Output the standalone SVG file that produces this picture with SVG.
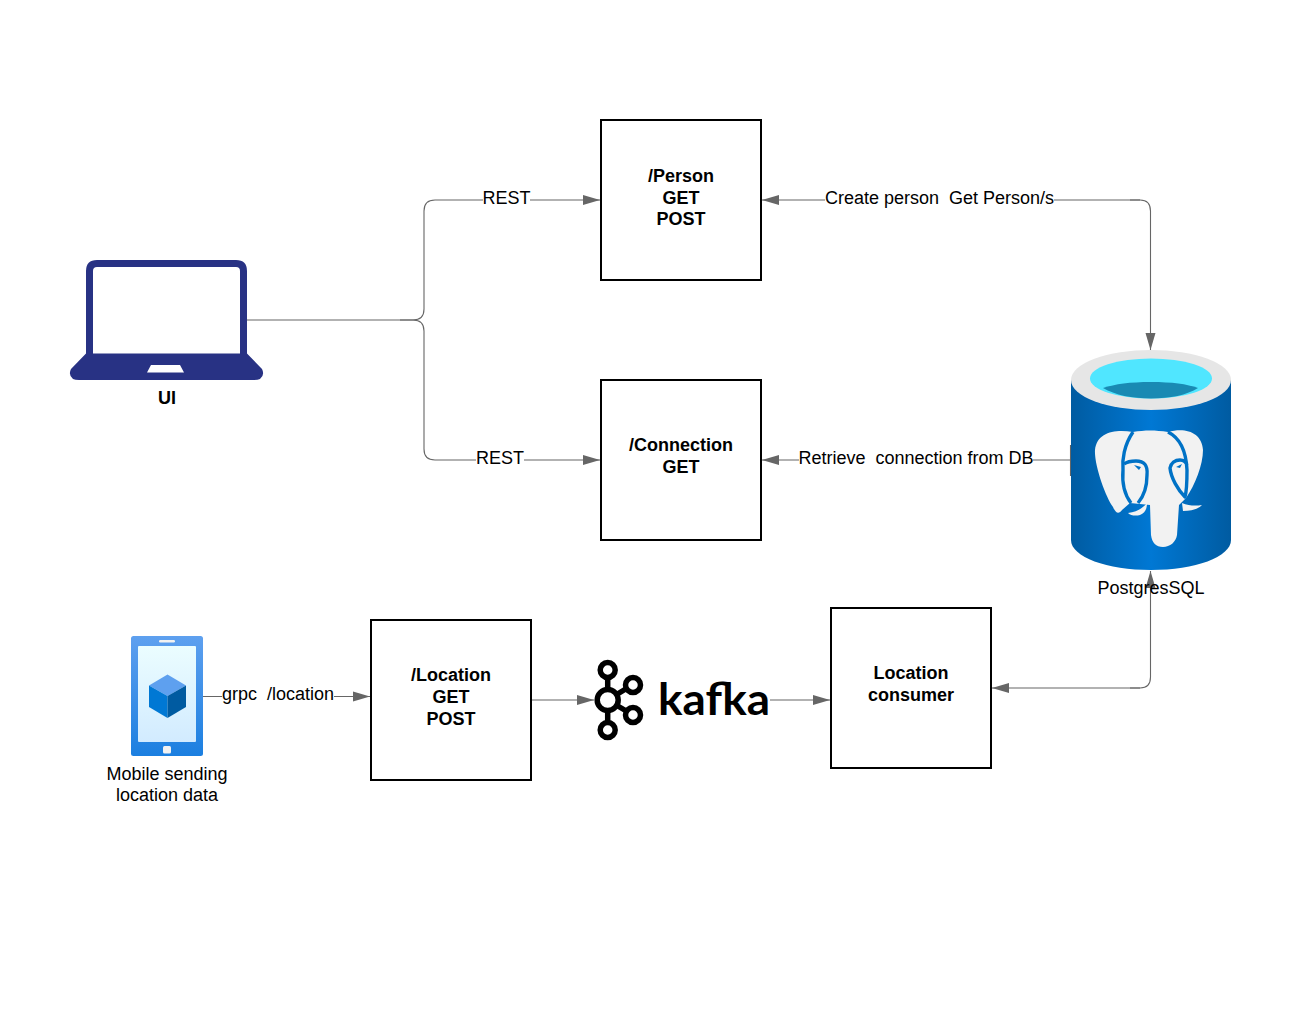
<svg xmlns="http://www.w3.org/2000/svg" width="1298" height="1020" viewBox="0 0 1298 1020">
<style>
text{font-family:"Liberation Sans",Arial,sans-serif;font-size:18px;fill:#000;text-anchor:middle}
.b{font-weight:700}
.box{fill:#fff;stroke:#000;stroke-width:2}
.c{fill:none;stroke:#666;stroke-width:1.100}
.m{fill:#fff}
.e{fill:none;stroke:#0072c6;stroke-width:3.400;stroke-linejoin:round}
</style>
<defs>
<marker id="a" markerUnits="userSpaceOnUse" markerWidth="18" markerHeight="12" refX="17" refY="6" orient="auto"><path d="M0 1 L17 6 L0 11Z" fill="#666"/></marker>
<linearGradient id="cyl" x1="0" x2="1" y1="0" y2="0"><stop offset="0" stop-color="#005ba1"/><stop offset=".5" stop-color="#0078d4"/><stop offset="1" stop-color="#005ba1"/></linearGradient>
<linearGradient id="ph" x1="0" x2="0" y1="0" y2="1"><stop offset="0" stop-color="#5ea0ef"/><stop offset="1" stop-color="#1b7fe0"/></linearGradient>
<linearGradient id="scr" x1="0" x2="0" y1="0" y2="1"><stop offset="0" stop-color="#ebfdff"/><stop offset="1" stop-color="#d2ebff"/></linearGradient>
</defs>
<g id="connectors">
<path class="c" d="M247 320H413Q424 320 424 309V211Q424 200 435 200H600" marker-end="url(#a)"/>
<path class="c" d="M400 320H413Q424 320 424 331V449Q424 460 435 460H600" marker-end="url(#a)"/>
<path class="c" d="M1071 460H762" marker-end="url(#a)"/>
<path class="c" d="M1070.500 445V476"/>
<path class="c" d="M1140 200H762" marker-end="url(#a)"/>
<path class="c" d="M1130 200H1140Q1150.500 200 1150.500 211V350" marker-end="url(#a)"/>
<path class="c" d="M1140 688H992" marker-end="url(#a)"/>
<path class="c" d="M1130 688H1140Q1150.500 688 1150.500 677V571" marker-end="url(#a)"/>
<path class="c" d="M203 696.500H370" marker-end="url(#a)"/>
<path class="c" d="M532 700H594" marker-end="url(#a)"/>
<path class="c" d="M770 700H830" marker-end="url(#a)"/>
<rect class="m" x="483" y="188" width="47" height="24"/>
<rect class="m" x="476" y="448" width="48" height="24"/>
<rect class="m" x="825" y="188" width="229" height="24"/>
<rect class="m" x="799" y="448" width="234" height="24"/>
<rect class="m" x="222" y="684" width="112" height="24"/>
<text x="506.500" y="204">REST</text>
<text x="500" y="464">REST</text>
<text x="939.500" y="204" xml:space="preserve">Create person  Get Person/s</text>
<text x="916" y="464" xml:space="preserve">Retrieve  connection from DB</text>
<text x="278" y="700" xml:space="preserve">grpc  /location</text>
</g>
<g id="person"><rect class="box" x="601" y="120" width="160" height="160"/><text class="b" x="681" y="182">/Person</text><text class="b" x="681" y="203.500">GET</text><text class="b" x="681" y="225">POST</text></g>
<g id="connection"><rect class="box" x="601" y="380" width="160" height="160"/><text class="b" x="681" y="451">/Connection</text><text class="b" x="681" y="473">GET</text></g>
<g id="location"><rect class="box" x="371" y="620" width="160" height="160"/><text class="b" x="451" y="681">/Location</text><text class="b" x="451" y="703">GET</text><text class="b" x="451" y="725">POST</text></g>
<g id="consumer"><rect class="box" x="831" y="608" width="160" height="160"/><text class="b" x="911" y="679">Location</text><text class="b" x="911" y="701">consumer</text></g>
<g id="ui">
<path fill="#283284" fill-rule="evenodd" d="M86 353.500V271Q86 260 97 260H236Q247 260 247 271V353.500L262 369Q265 375 260 379Q258 380 254 380H79Q75 380 73 379Q68 375 71 369ZM93 353.500H240V271Q240 267 236 267H97Q93 267 93 271Z"/>
<path fill="#fff" d="M147 372.500L151 365H180L184 372.500Z"/>
<text class="b" x="167" y="403.500">UI</text>
</g>
<g id="db">
<path fill="url(#cyl)" d="M1071 380V540C1071 557 1107 570 1151 570S1231 557 1231 540V380Z"/>
<ellipse cx="1151" cy="380" rx="80" ry="30" fill="#e6e6e6"/>
<ellipse cx="1151" cy="378.500" rx="61" ry="20" fill="#50e6ff"/>
<path fill="#198ab3" d="M1103 388C1115 384 1130 382 1151 382S1187 384 1198 388C1187 395 1170 398.500 1151 398.500S1115 395 1103 388Z"/>
<path fill="#f2f2f2" d="M1133 432C1115 429 1097 432 1095 450C1094 465 1106 498 1113 507C1116 514 1119 514 1122 510L1130 503L1150 505L1151 535C1152 543 1156 547 1163 547C1170 547 1176 542 1177 535L1179 505L1186 498C1195 485 1203 465 1203 450C1202 432 1185 427 1168 432C1155 430 1145 430 1133 432Z"/>
<path class="e" d="M1133 432C1124 445 1122 460 1123 470C1122 482 1124 494 1131 503"/>
<path class="e" d="M1124 464C1128 461 1132 461 1136 461C1144 461 1148 465 1147 475C1147 488 1144 496 1138 503"/>
<path class="e" d="M1168 432C1178 437 1186 448 1187 470C1187 482 1187 490 1185 497C1178 490 1171 478 1170 468C1171 463 1175 460 1180 460C1184 460 1186 462 1187 465"/>
<path fill="#0072c6" d="M1134 465L1141 467L1139 470ZM1176 467L1182 464L1180 468Z"/>
<path fill="#f2f2f2" d="M1128 513C1137 512 1143 508 1147 503C1147 509 1145 513 1140 515C1136 516 1131 516 1128 513ZM1182 503C1189 506 1196 506 1202 505C1198 509 1192 511 1183 511Z"/>
<text x="1151" y="593.500">PostgresSQL</text>
</g>
<g id="mobile">
<rect x="131" y="636" width="72" height="120" rx="2.500" fill="url(#ph)"/>
<rect x="138" y="646" width="58" height="96" rx="1" fill="url(#scr)"/>
<rect x="159" y="640" width="16" height="2.500" rx="1.200" fill="#f2f2f2"/>
<rect x="163" y="746" width="8" height="7.500" rx="1.500" fill="#f2f2f2"/>
<path fill="#5ea0ef" d="M167.500 674.500L186 685.500L167.500 696L149 685.500Z"/>
<path fill="#0078d4" d="M149 685.500L167.500 696V718L149 707Z"/>
<path fill="#005ba1" d="M186 685.500L167.500 696V718L186 707Z"/>
<text x="167" y="780">Mobile sending</text>
<text x="167" y="801">location data</text>
</g>
<g id="kafka">
<g fill="#fff" stroke="#000" stroke-width="5.500">
<path d="M607.700 670V730M607.700 700L633 684.500M607.700 700L633 715" fill="none"/>
<circle cx="607.700" cy="670" r="7.500"/><circle cx="607.700" cy="730" r="7.500"/>
<circle cx="607.700" cy="700" r="10.500"/><circle cx="633" cy="685" r="7.500"/><circle cx="633" cy="715" r="7.500"/>
</g>
<text x="714" y="715" textLength="112" lengthAdjust="spacingAndGlyphs" style="font-family:Lato,'Liberation Sans',sans-serif;font-size:43px;font-weight:700">kafka</text>
</g>
</svg>
